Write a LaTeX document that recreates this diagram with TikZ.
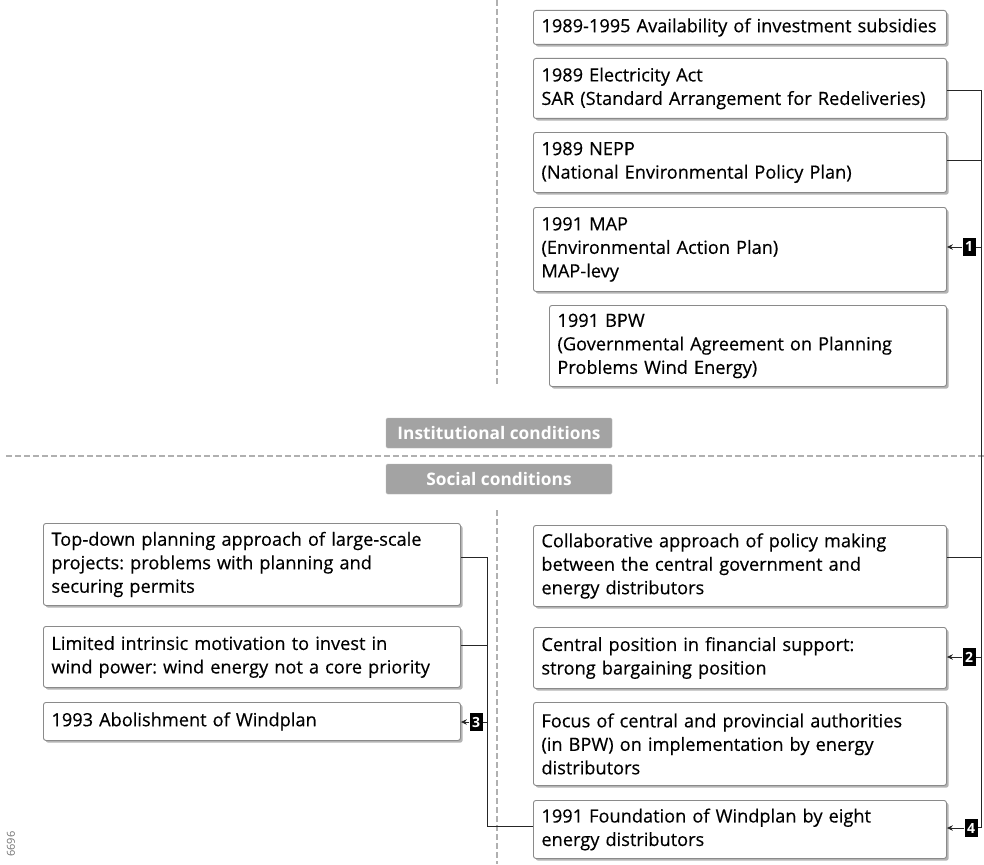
\documentclass[tikz,border=0pt]{standalone}
\usepackage{fontspec}
\setmainfont{Open Sans}
\newfontfamily\boxfont{Open Sans}[FakeBold=0.35]
\frenchspacing
\usetikzlibrary{arrows.meta,shadows,calc}
\definecolor{boxline}{HTML}{8A8A8A}
\definecolor{boxshade}{HTML}{B4B4B4}
\definecolor{bandgray}{HTML}{A3A3A3}
\definecolor{dashgray}{HTML}{B0B0B0}
\begin{document}
\begin{tikzpicture}[x=1pt,y=-1pt,
  infobox/.style={draw=boxline, line width=0.9pt, fill=white, rounded corners=2.5pt,
    anchor=north west, align=left, inner xsep=8pt, inner ysep=2pt,
    font=\boxfont\fontsize{18.2}{23.5}\selectfont,
    general shadow={fill=boxshade, shadow xshift=2.2pt, shadow yshift=-2.2pt}},
  band/.style={fill=bandgray, draw=bandgray!80, rounded corners=1.5pt, text=white,
    font=\fontsize{17.3}{20}\selectfont\bfseries, minimum width=226pt, minimum height=30pt,
    inner sep=0pt},
  tag/.style={fill=black, text=white, font=\fontsize{14}{14}\selectfont\bfseries,
    minimum width=13pt, minimum height=18pt, inner sep=0pt},
  bus/.style={draw=black!85, line width=0.9pt},
  feed/.style={draw=black!85, line width=0.9pt, -{Stealth[length=6pt,width=5.5pt,inset=2pt]}},
  divider/.style={draw=dashgray, line width=1.2pt, dash pattern=on 6pt off 3pt}
]
\useasboundingbox (0,0) rectangle (984,864);

% dividers between the four quadrants
\draw[divider] (497,0) -- (497,386);
\draw[divider] (497,510) -- (497,864);
\draw[divider] (6,456) -- (984,456);

% institutional conditions
\node[infobox, minimum width=413pt, minimum height=34pt, text width=397pt] (avail) at (533,10)
  {1989-1995 Availability of investment subsidies};
\node[infobox, minimum width=413pt, minimum height=60pt, text width=397pt] (elec) at (533,58)
  {1989 Electricity Act\\SAR (Standard Arrangement for Redeliveries)};
\node[infobox, minimum width=413pt, minimum height=60pt, text width=397pt] (nepp) at (533,132)
  {1989 NEPP\\(National Environmental Policy Plan)};
\node[infobox, minimum width=413pt, minimum height=84pt, text width=397pt] (map) at (533,207)
  {1991 MAP\\(Environmental Action Plan)\\MAP-levy};
\node[infobox, minimum width=397pt, minimum height=81pt, text width=381pt] (bpw) at (549,305)
  {1991 BPW\\(Governmental Agreement on Planning\\Problems Wind Energy)};

% band labels
\node[band] (inst) at (499,433) {Institutional conditions};
\node[band] (soc) at (499,479) {Social conditions};

% social conditions, right column
\node[infobox, minimum width=413pt, minimum height=81pt, text width=397pt] (coll) at (533,525)
  {Collaborative approach of policy making\\between the central government and\\energy distributors};
\node[infobox, minimum width=413pt, minimum height=61pt, text width=397pt] (central) at (533,627)
  {Central position in financial support:\\strong bargaining position};
\node[infobox, minimum width=413pt, minimum height=83pt, text width=397pt] (focus) at (533,702)
  {Focus of central and provincial authorities\\(in BPW) on implementation by energy\\distributors};
\node[infobox, minimum width=413pt, minimum height=58pt, text width=397pt] (found) at (533,800)
  {1991 Foundation of Windplan by eight\\energy distributors};

% social conditions, left column
\node[infobox, minimum width=417pt, minimum height=82pt, text width=401pt] (topdown) at (43,523)
  {Top-down planning approach of large-scale\\projects: problems with planning and\\securing permits};
\node[infobox, minimum width=417pt, minimum height=61pt, text width=401pt] (limited) at (43,626)
  {Limited intrinsic motivation to invest in\\wind power: wind energy not a core priority};
\node[infobox, minimum width=417pt, minimum height=38pt, text width=401pt] (abol) at (43,702)
  {1993 Abolishment of Windplan};

% numbered tags
\node[tag] (t1) at (969,247) {1};
\node[tag] (t2) at (969,657) {2};
\node[tag] (t3) at (476,722) {3};
\node[tag] (t4) at (971,828) {4};

% right-hand bus
\coordinate (rtop) at (981,90);
\coordinate (rbot) at (981,827);
\draw[bus] (elec.east |- rtop) -- (rtop) -- (rbot) -- (t4.east |- rbot);
\draw[bus] ([yshift=2pt]nepp.east) -- ([yshift=2pt]nepp.east -| rtop);
\draw[bus] ([yshift=8.5pt]coll.east) -- ([yshift=8.5pt]coll.east -| rtop);
\draw[bus] (t1.east) -- (t1.east -| rtop);
\draw[bus] (t2.east) -- (t2.east -| rtop);
\draw[feed] (t1.west) -- (t1.west -| map.east);
\draw[feed] (t2.west) -- (t2.west -| central.east);
\draw[feed] (t4.west) -- (t4.west -| found.east);

% left-hand bus
\coordinate (ltop) at (487,557);
\coordinate (lbot) at (487,826);
\draw[bus] (topdown.east |- ltop) -- (ltop) -- (lbot) -- (lbot -| found.west);
\draw[bus] (limited.east |- 0,645) -- (ltop |- 0,645);
\draw[bus] (t3.east) -- (t3.east -| ltop);
\draw[feed] (t3.west) -- (t3.west -| abol.east);

% figure number
\node[rotate=90, text=black!55, font=\fontsize{11}{11}\selectfont, inner sep=0pt] (fignum) at (11,844) {6696};
\end{tikzpicture}
\end{document}
